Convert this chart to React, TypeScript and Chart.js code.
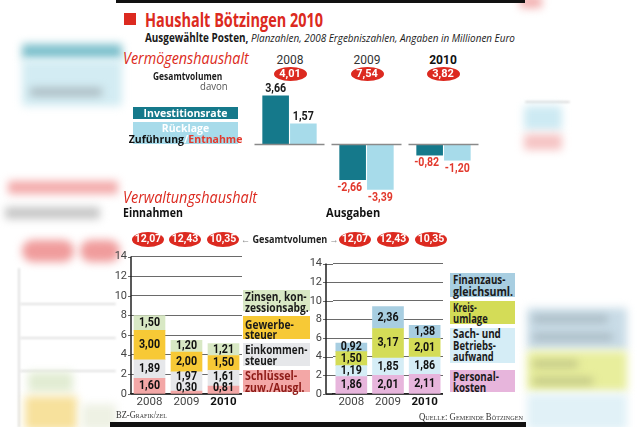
import React, { useEffect, useLayoutEffect, useRef } from 'react';
import { Chart, registerables } from 'chart.js';

Chart.register(...registerables);

// ---------- data ----------
const topYears = ['2008', '2009', '2010'];
const topTotals = ['4,01', '7,54', '3,82'];
const investitionsrate = [3.66, -2.66, -0.82];
const ruecklage = [1.57, -3.39, -1.2];

const years = ['2008', '2009', '2010'];
const gesamtvolumen = ['12,07', '12,43', '10,35'];
// Einnahmen (bottom -> top)
const schluesselzuw = [1.6, 0.3, 0.81];
const einkommensteuer = [1.89, 1.97, 1.61];
const gewerbesteuer = [3.0, 2.0, 1.5];
const zinsen = [1.5, 1.2, 1.21];
// Ausgaben (bottom -> top)
const personalkosten = [1.86, 2.01, 2.11];
const sachaufwand = [1.19, 1.85, 1.86];
const kreisumlage = [1.5, 3.17, 2.01];
const finanzausgleich = [0.92, 2.36, 1.38];

const yTickMax = 14;
const yTickStep = 2;

// ---------- styles ----------
const RED = '#dc2a20';
const TEAL = '#15798b';
const LBLUE = '#a7dbea';
const C_SCHL = '#f3a7a6';
const C_EINK = '#e6e7ea';
const C_GEW = '#f7c936';
const C_ZINS = '#d8e8c4';
const C_PERS = '#e7b5dc';
const C_SACH = '#d5edf6';
const C_KREIS = '#d4dc57';
const C_FIN = '#a8cee1';
const SANS = "'Open Sans', 'Noto Sans', sans-serif";
const NUMF = "'Roboto', 'Open Sans', sans-serif";

const fmt = (v: number) => v.toFixed(2).replace('.', ',');

// ---------- helpers ----------
function T({ x, y, w, children, style }: any) {
  const ref = useRef<HTMLSpanElement>(null);
  useLayoutEffect(() => {
    const el = ref.current;
    if (!el) return;
    el.style.transform = 'translateY(-50%)';
    const nat = el.offsetWidth;
    if (w && nat > 0) el.style.transform = `translateY(-50%) scaleX(${w / nat})`;
  });
  return (
    <span
      ref={ref}
      style={{
        position: 'absolute',
        left: x,
        top: y,
        whiteSpace: 'nowrap',
        transformOrigin: 'left center',
        transform: 'translateY(-50%)',
        lineHeight: 1,
        fontFamily: SANS,
        ...style,
      }}
    >
      {children}
    </span>
  );
}

function C({ x, y, children, style }: any) {
  return (
    <span
      style={{
        position: 'absolute',
        left: x,
        top: y,
        whiteSpace: 'nowrap',
        transform: 'translate(-50%, -50%)',
        lineHeight: 1,
        fontFamily: SANS,
        ...style,
      }}
    >
      {children}
    </span>
  );
}

function Oval({ x, y, w, h, text, fs = 11 }: any) {
  return (
    <div
      style={{
        position: 'absolute',
        left: x - w / 2,
        top: y - h / 2,
        width: w,
        height: h,
        borderRadius: '50%',
        background: RED,
        color: '#fff',
        fontFamily: NUMF,
        fontWeight: 700,
        fontSize: fs,
        display: 'flex',
        alignItems: 'center',
        justifyContent: 'center',
        lineHeight: 1,
      }}
    >
      {text}
    </div>
  );
}

function Box({ x, y, w, h, c }: any) {
  return <div style={{ position: 'absolute', left: x, top: y, width: w, height: h, background: c }} />;
}

function Blob({ x, y, w, h, c, r = 2, b = 4 }: any) {
  return (
    <div
      style={{
        position: 'absolute',
        left: x,
        top: y,
        width: w,
        height: h,
        background: c,
        borderRadius: r,
        filter: `blur(${b}px)`,
      }}
    />
  );
}

function ChartCanvas({ x, y, w, h, make }: any) {
  const ref = useRef<HTMLCanvasElement>(null);
  useEffect(() => {
    const chart = new Chart(ref.current as HTMLCanvasElement, make());
    return () => chart.destroy();
  }, []);
  return (
    <canvas
      ref={ref}
      width={w}
      height={h}
      style={{ position: 'absolute', left: x, top: y, width: w, height: h }}
    />
  );
}

// ---------- top chart ----------
function makeTop(): any {
  const series = [investitionsrate, ruecklage];
  return {
    type: 'bar',
    data: {
      labels: topYears,
      datasets: [
        { label: 'Investitionsrate', data: investitionsrate, backgroundColor: TEAL, barPercentage: 0.96, categoryPercentage: 0.72 },
        { label: 'Rücklage', data: ruecklage, backgroundColor: LBLUE, barPercentage: 0.96, categoryPercentage: 0.72 },
      ],
    },
    options: {
      responsive: false,
      animation: false,
      events: [],
      layout: { padding: { top: 11, bottom: 7, left: 0, right: 0 } },
      plugins: { legend: { display: false }, tooltip: { enabled: false } },
      scales: {
        x: { display: false },
        y: { display: false, min: -4, max: 4 },
      },
    },
    plugins: [
      {
        id: 'topLabels',
        afterDatasetsDraw(chart: any) {
          const ctx = chart.ctx;
          const y0 = chart.scales.y.getPixelForValue(0);
          ctx.save();
          ctx.strokeStyle = '#8a8a8a';
          ctx.lineWidth = 1.6;
          topYears.forEach((_, i) => {
            const cx = chart.scales.x.getPixelForValue(i);
            ctx.beginPath();
            ctx.moveTo(cx - 35, y0);
            ctx.lineTo(cx + 35, y0);
            ctx.stroke();
          });
          ctx.font = `bold 12px ${NUMF}`;
          ctx.textAlign = 'center';
          ctx.textBaseline = 'middle';
          series.forEach((s, d) => {
            chart.getDatasetMeta(d).data.forEach((el: any, i: number) => {
              const v = s[i];
              if (v >= 0) {
                ctx.fillStyle = '#1a1a1a';
                ctx.fillText(fmt(v), el.x, el.y - 7, 21);
              } else {
                ctx.fillStyle = '#e2392d';
                ctx.fillText(fmt(v), el.x - (d === 0 ? 3 : 0), el.y + 8, 25);
              }
            });
          });
          ctx.restore();
        },
      },
    ],
  };
}

// ---------- bottom charts ----------
// axisGap: distance between the drawn y-axis line and the start of the category area
function makeStack(series: number[][], colors: string[], names: string[], yWidth: number, axisGap: number): any {
  return {
    type: 'bar',
    data: {
      labels: years,
      datasets: series.map((s, d) => ({
        label: names[d],
        data: s,
        backgroundColor: colors[d],
        barThickness: 31,
      })),
    },
    options: {
      responsive: false,
      animation: false,
      events: [],
      layout: { padding: { top: 9, bottom: 20, left: 0, right: 0 } },
      plugins: { legend: { display: false }, tooltip: { enabled: false } },
      scales: {
        x: {
          stacked: true,
          ticks: { display: false },
          grid: { display: false },
          border: { display: true, color: '#222', width: 1.5 },
          afterFit: (s: any) => {
            s.height = 0;
          },
        },
        y: {
          stacked: true,
          min: 0,
          max: yTickMax,
          ticks: { stepSize: yTickStep, color: '#444', font: { family: NUMF, size: 11 }, padding: axisGap + 4 },
          grid: { color: '#6a6a6a', lineWidth: 1, drawTicks: false },
          border: { display: false },
          afterFit: (s: any) => {
            s.width = yWidth;
          },
        },
      },
    },
    plugins: [
      {
        id: 'axisExt',
        afterDatasetsDraw(chart: any) {
          const ctx = chart.ctx;
          const a = chart.chartArea;
          const ax = a.left - axisGap;
          const ys = chart.scales.y;
          ctx.save();
          ctx.lineWidth = 1;
          ctx.strokeStyle = '#6a6a6a';
          for (let v = 0; v <= yTickMax; v += yTickStep) {
            const py = Math.round(ys.getPixelForValue(v)) + 0.5;
            ctx.beginPath();
            ctx.moveTo(ax - 3, py);
            ctx.lineTo(a.left, py);
            ctx.stroke();
          }
          ctx.strokeStyle = '#222';
          ctx.lineWidth = 1.5;
          ctx.beginPath();
          ctx.moveTo(ax, a.top);
          ctx.lineTo(ax, a.bottom);
          ctx.moveTo(ax, a.bottom);
          ctx.lineTo(a.left, a.bottom);
          ctx.stroke();
          ctx.restore();
        },
      },
      {
        id: 'stackLabels',
        afterDatasetsDraw(chart: any) {
          const ctx = chart.ctx;
          ctx.save();
          ctx.textAlign = 'center';
          ctx.textBaseline = 'middle';
          const n = series[0].length;
          for (let i = 0; i < n; i++) {
            let prev = Infinity;
            series.forEach((s, d) => {
              const el: any = chart.getDatasetMeta(d).data[i];
              const center = (el.y + el.base) / 2;
              const ly = d === 0 ? Math.min(center, el.base - 6) : Math.min(center, prev - 11);
              ctx.font = `bold 12.5px ${NUMF}`;
              ctx.fillStyle = '#111';
              ctx.fillText(fmt(s[i]), el.x, ly, 21);
              prev = ly;
            });
            const el0: any = chart.getDatasetMeta(0).data[i];
            const isLast = i === n - 1;
            ctx.font = `${isLast ? 'bold ' : ''}11.5px ${NUMF}`;
            ctx.fillStyle = isLast ? '#111' : '#444';
            ctx.fillText(years[i], el0.x, chart.chartArea.bottom + 8);
          }
          ctx.restore();
        },
      },
    ],
  };
}

function LegendLines({ x, lines }: any) {
  return (
    <>
      {lines.map((l: any, k: number) => (
        <T key={k} x={x} y={l[1]} w={l[2]} style={{ fontWeight: 700, fontSize: 11.5, color: l[3] || '#1a1a1a' }}>
          {l[0]}
        </T>
      ))}
    </>
  );
}

export default function App() {
  return (
    <div
      style={{
        position: 'fixed',
        left: 0,
        top: 0,
        width: 640,
        height: 427,
        background: '#fff',
        overflow: 'hidden',
      }}
    >
      {/* blurred background fringes */}
      <Blob x={22} y={44} w={100} h={15} c="#7fc1cd" />
      <Blob x={22} y={60} w={100} h={46} c="#d3ecf3" />
      <Blob x={30} y={88} w={72} h={8} c="#a9b8be" />
      <Blob x={8} y={181} w={110} h={13} c="#f3aaaa" />
      <Blob x={5} y={207} w={95} h={12} c="#c6c6c6" />
      <Blob x={22} y={240} w={52} h={22} c="#f09c9c" r={20} />
      <Blob x={80} y={240} w={40} h={22} c="#f09c9c" r={20} />
      <Blob x={20} y={303} w={96} h={2} c="#e2e2e2" b={1} />
      <Blob x={20} y={337} w={96} h={2} c="#e2e2e2" b={1} />
      <Blob x={20} y={370} w={96} h={2} c="#e2e2e2" b={1} />
      <Blob x={18} y={268} w={2} h={160} c="#e0e0e0" b={1} />
      <Blob x={28} y={372} w={45} h={20} c="#e2ecd3" />
      <Blob x={25} y={396} w={52} h={34} c="#f7e19c" />
      <Blob x={82} y={404} w={34} h={26} c="#eef1e4" />
      <Blob x={520} y={-4} w={22} h={12} c="#f3b0b0" />
      <Blob x={525} y={101} w={45} h={2} c="#dcdcdc" b={1} />
      <Blob x={524} y={106} w={38} h={24} c="#cdeaf3" />
      <Blob x={524} y={134} w={38} h={16} c="#f6c4c4" />
      <Blob x={527} y={308} w={100} h={42} c="#c9dce7" />
      <Blob x={533} y={316} w={75} h={6} c="#a2b2ba" />
      <Blob x={533} y={334} w={80} h={6} c="#a2b2ba" />
      <Blob x={527} y={351} w={100} h={40} c="#e8ee9c" />
      <Blob x={533} y={361} w={45} h={6} c="#b9be83" />
      <Blob x={533} y={378} w={60} h={6} c="#b9be83" />
      <Blob x={527} y={394} w={100} h={36} c="#e1f1f7" />

      {/* black rules */}
      <Box x={116} y={0} w={409} h={3} c="#111" />
      <Box x={110} y={422} w={416} h={5} c="#111" />

      {/* charts */}
      <ChartCanvas x={251} y={80} w={231} h={125} make={makeTop} />
      <ChartCanvas
        x={108}
        y={246}
        w={134}
        h={168}
        make={() =>
          makeStack(
            [schluesselzuw, einkommensteuer, gewerbesteuer, zinsen],
            [C_SCHL, C_EINK, C_GEW, C_ZINS],
            ['Schlüsselzuw./Ausgl.', 'Einkommensteuer', 'Gewerbesteuer', 'Zinsen, Konzessionsabg.'],
            23,
            0
          )
        }
      />
      <ChartCanvas
        x={303}
        y={246}
        w={140}
        h={168}
        make={() =>
          makeStack(
            [personalkosten, sachaufwand, kreisumlage, finanzausgleich],
            [C_PERS, C_SACH, C_KREIS, C_FIN],
            ['Personalkosten', 'Sach- und Betriebsaufwand', 'Kreisumlage', 'Finanzausgleichsuml.'],
            30,
            7
          )
        }
      />

      {/* title */}
      <Box x={124} y={13} w={12} h={12} c={RED} />
      <T x={145} y={20} w={178} style={{ fontWeight: 700, fontSize: 19, color: RED }}>
        Haushalt Bötzingen 2010
      </T>
      <T x={145} y={38} w={370} style={{ fontSize: 11.5, color: '#1a1a1a' }}>
        <b>Ausgewählte Posten,</b> <i>Planzahlen, 2008 Ergebniszahlen, Angaben in Millionen Euro</i>
      </T>

      {/* Vermögenshaushalt */}
      <T x={123} y={58} w={126} style={{ fontStyle: 'italic', fontSize: 16.5, color: RED }}>
        Vermögenshaushalt
      </T>
      {topYears.map((yr, i) => (
        <C
          key={yr}
          x={[290, 367, 443][i]}
          y={60}
          style={{ fontFamily: NUMF, fontSize: 12, fontWeight: i === 2 ? 700 : 400, color: i === 2 ? '#111' : '#333' }}
        >
          {yr}
        </C>
      ))}
      {topTotals.map((t, i) => (
        <Oval key={t} x={[290, 367, 443][i]} y={73.5} w={33} h={14} text={t} fs={11} />
      ))}
      <T x={153} y={75} w={69} style={{ fontWeight: 700, fontSize: 11, color: '#1a1a1a' }}>
        Gesamtvolumen
      </T>
      <T x={200} y={85} w={28} style={{ fontSize: 11, color: '#555' }}>
        davon
      </T>

      {/* top legend */}
      <Box x={133} y={107} w={105} h={12} c={TEAL} />
      <C x={185.5} y={113} style={{ fontWeight: 700, fontSize: 10.5, color: '#fff' }}>
        Investitionsrate
      </C>
      <Box x={133} y={122} w={105} h={22} c={LBLUE} />
      <C x={185.5} y={128} style={{ fontWeight: 700, fontSize: 10.5, color: '#fff' }}>
        Rücklage
      </C>
      <C x={185.5} y={139} style={{ fontWeight: 700, fontSize: 10.5, color: '#111' }}>
        Zuführung<span style={{ color: '#fff' }}>/</span>
        <span style={{ color: '#e2392d' }}>Entnahme</span>
      </C>

      {/* Verwaltungshaushalt */}
      <T x={123} y={197} w={134} style={{ fontStyle: 'italic', fontSize: 16.5, color: RED }}>
        Verwaltungshaushalt
      </T>
      <T x={123} y={213} w={60} style={{ fontWeight: 700, fontSize: 12.5, color: '#111' }}>
        Einnahmen
      </T>
      <T x={326} y={213} w={54} style={{ fontWeight: 700, fontSize: 12.5, color: '#111' }}>
        Ausgaben
      </T>
      {gesamtvolumen.map((t, i) => (
        <Oval key={'l' + i} x={[148, 185, 223][i]} y={239} w={32} h={15} text={t} fs={10.5} />
      ))}
      {gesamtvolumen.map((t, i) => (
        <Oval key={'r' + i} x={[355, 393, 431][i]} y={239} w={32} h={15} text={t} fs={10.5} />
      ))}
      <T x={241} y={239} w={98} style={{ fontWeight: 700, fontSize: 10.5, color: '#222' }}>
        <span style={{ color: '#888' }}>←</span> Gesamtvolumen <span style={{ color: '#888' }}>→</span>
      </T>

      {/* left legend */}
      <Box x={243} y={290} w={67} h={21} c={C_ZINS} />
      <Box x={243} y={316} w={67} h={23} c={C_GEW} />
      <Box x={243} y={343} w={67} h={23} c={C_EINK} />
      <Box x={243} y={370} w={67} h={22} c={C_SCHL} />
      <LegendLines
        x={245}
        lines={[
          ['Zinsen, kon-', 297, 62],
          ['zessionsabg.', 307.5, 64],
          ['Gewerbe-', 324.5, 49],
          ['steuer', 335, 32],
          ['Einkommen-', 350, 62],
          ['steuer', 361, 32],
          ['Schlüssel-', 376, 52, '#8e1b17'],
          ['zuw./Ausgl.', 387.5, 60, '#8e1b17'],
        ]}
      />

      {/* right legend */}
      <Box x={450} y={273} w={65} h={24} c={C_FIN} />
      <Box x={450} y={301} w={65} h={23} c={C_KREIS} />
      <Box x={450} y={328} w={65} h={35} c={C_SACH} />
      <Box x={450} y={370} w={65} h={22} c={C_PERS} />
      <LegendLines
        x={453}
        lines={[
          ['Finanzaus-', 280, 52],
          ['gleichsuml.', 292, 60],
          ['Kreis-', 308, 24],
          ['umlage', 319, 35],
          ['Sach- und', 334, 48],
          ['Betriebs-', 346, 43],
          ['aufwand', 357, 41],
          ['Personal-', 377, 46],
          ['kosten', 388, 33],
        ]}
      />

      {/* footer */}
      <T
        x={116}
        y={415}
        w={51}
        style={{ fontFamily: "'Liberation Serif', serif", fontVariant: 'small-caps', fontSize: 10, color: '#333' }}
      >
        BZ-Grafik/zel
      </T>
      <T
        x={419}
        y={417}
        w={104}
        style={{ fontFamily: "'Liberation Serif', serif", fontVariant: 'small-caps', fontSize: 10, color: '#333' }}
      >
        Quelle: Gemeinde Bötzingen
      </T>
    </div>
  );
}
